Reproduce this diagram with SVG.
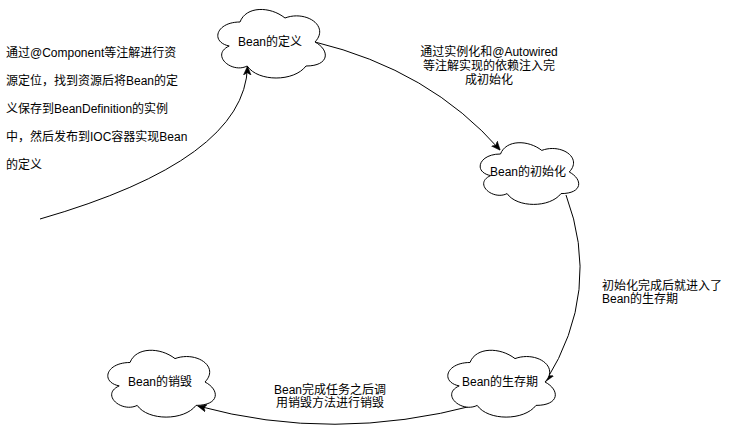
<svg xmlns="http://www.w3.org/2000/svg" width="741" height="431" viewBox="0 0 741 431">
  <style>
    .cloud { fill: #ffffff; stroke: #000000; stroke-width: 1; }
    .edge { fill: none; stroke: #000000; stroke-width: 1; marker-end: url(#arrow); }
    text { font-family: "Liberation Sans", Arial, "Noto Sans CJK SC", sans-serif; font-size: 12px; fill: #000000; }
    .mid { text-anchor: middle; dominant-baseline: central; }
    .lbl { text-anchor: middle; }
  </style>
  <defs>
    <marker id="arrow" viewBox="0 0 10 10" refX="9.5" refY="5" markerWidth="9" markerHeight="9" markerUnits="userSpaceOnUse" orient="auto">
      <path d="M0,0.8 L10,5 L0,9.2 L2.6,5 Z" fill="#000000" stroke="#000000" stroke-width="0.6"/>
    </marker>
  </defs>

  <rect width="741" height="431" fill="#ffffff"/>

  <!-- connectors -->
  <g id="connectors">
    <path class="edge" d="M315,42 Q430,70 500,150"/>
    <path class="edge" d="M566,195 Q602,291 546,381"/>
    <path class="edge" d="M476,405 Q333,443 198,406"/>
    <path class="edge" d="M40,219 Q245,160 247.5,66.5"/>
  </g>

  <!-- nodes -->
  <g id="bean-define">
    <path class="cloud" d="M240,22 C216,22 210,42 229.2,46 C210,54.8 231.6,74 247.2,66 C258,82 294,82 306,66 C330,66 330,50 315,42 C330,26 306,10 285,18 C270,6 246,6 240,22 Z"/>
    <text class="mid" x="270" y="42">Bean的定义</text>
  </g>

  <g id="bean-init">
    <path class="cloud" d="M500.5,154 C478.5,154 473,172 490.6,175.6 C473,183.5 492.8,200.8 507.1,193.6 C517,208 550,208 561,193.6 C583,193.6 583,179.2 569.25,172 C583,157.6 561,143.2 541.75,150.4 C528,139.6 506,139.6 500.5,154 Z"/>
    <text class="mid" x="528" y="172">Bean的初始化</text>
  </g>

  <g id="bean-live">
    <path class="cloud" d="M470,362.5 C446,362.5 440,382 459.2,385.9 C440,394.5 461.6,413.2 477.2,405.4 C488,421 524,421 536,405.4 C560,405.4 560,389.8 545,382 C560,366.4 536,350.8 515,358.6 C500,346.9 476,346.9 470,362.5 Z"/>
    <text class="mid" x="500" y="382">Bean的生存期</text>
  </g>

  <g id="bean-destroy">
    <path class="cloud" d="M130,362.5 C106,362.5 100,382 119.2,385.9 C100,394.5 121.6,413.2 137.2,405.4 C148,421 184,421 196,405.4 C220,405.4 220,389.8 205,382 C220,366.4 196,350.8 175,358.6 C160,346.9 136,346.9 130,362.5 Z"/>
    <text class="mid" x="160" y="382">Bean的销毁</text>
  </g>

  <!-- edge labels -->
  <g id="label-init">
    <text class="lbl" x="489" y="56">通过实例化和@Autowired</text>
    <text class="lbl" x="489" y="70">等注解实现的依赖注入完</text>
    <text class="lbl" x="489" y="84">成初始化</text>
  </g>

  <g id="label-live">
    <text x="602" y="290">初始化完成后就进入了</text>
    <text x="602" y="303">Bean的生存期</text>
  </g>

  <g id="label-destroy">
    <text class="lbl" x="330" y="394">Bean完成任务之后调</text>
    <text class="lbl" x="330" y="407">用销毁方法进行销毁</text>
  </g>

  <g id="label-define">
    <text x="6" y="57">通过@Component等注解进行资</text>
    <text x="6" y="85">源定位，找到资源后将Bean的定</text>
    <text x="6" y="113">义保存到BeanDefinition的实例</text>
    <text x="6" y="141">中，然后发布到IOC容器实现Bean</text>
    <text x="6" y="169">的定义</text>
  </g>
</svg>
